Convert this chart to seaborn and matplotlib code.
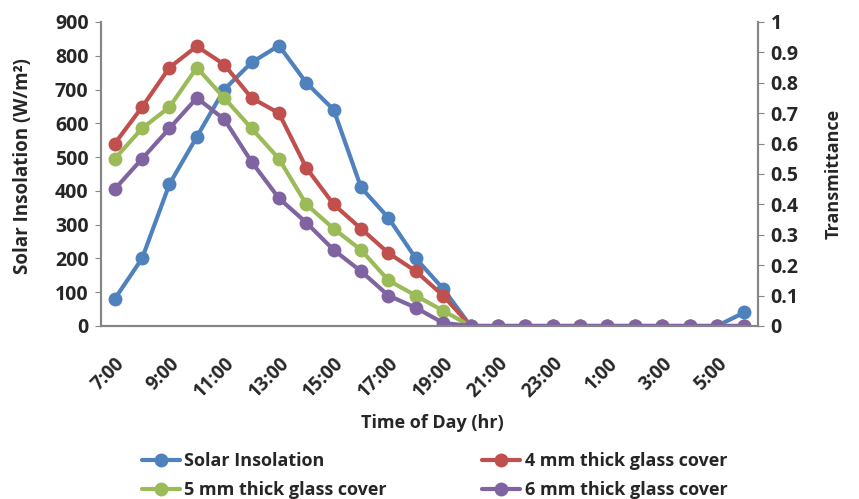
import matplotlib
matplotlib.use("Agg")
import matplotlib.pyplot as plt
import seaborn as sns
import pandas as pd
import numpy as np
from matplotlib.lines import Line2D

hours = ["7:00", "8:00", "9:00", "10:00", "11:00", "12:00", "13:00", "14:00", "15:00",
         "16:00", "17:00", "18:00", "19:00", "20:00", "21:00", "22:00", "23:00", "0:00",
         "1:00", "2:00", "3:00", "4:00", "5:00", "6:00"]
solar = [80, 200, 420, 560, 700, 780, 830, 720, 640, 410, 320, 200, 110,
         0, 0, 0, 0, 0, 0, 0, 0, 0, 0, 40]
t4mm = [0.60, 0.72, 0.85, 0.92, 0.86, 0.75, 0.70, 0.52, 0.40, 0.32, 0.24, 0.18, 0.10,
        0, 0, 0, 0, 0, 0, 0, 0, 0, 0, 0]
t5mm = [0.55, 0.65, 0.72, 0.85, 0.75, 0.65, 0.55, 0.40, 0.32, 0.25, 0.15, 0.10, 0.05,
        0, 0, 0, 0, 0, 0, 0, 0, 0, 0, 0]
t6mm = [0.45, 0.55, 0.65, 0.75, 0.68, 0.54, 0.42, 0.34, 0.25, 0.18, 0.10, 0.06, 0.01,
        0, 0, 0, 0, 0, 0, 0, 0, 0, 0, 0]
left_ticks = [0, 100, 200, 300, 400, 500, 600, 700, 800, 900]
right_ticks = [0, 0.1, 0.2, 0.3, 0.4, 0.5, 0.6, 0.7, 0.8, 0.9, 1]
right_labels = ["0", "0.1", "0.2", "0.3", "0.4", "0.5", "0.6", "0.7", "0.8", "0.9", "1"]
names = ["Solar Insolation", "4 mm thick glass cover", "5 mm thick glass cover", "6 mm thick glass cover"]
colors = ["#4F81BD", "#C0504D", "#9BBB59", "#8064A2"]

sns.set_style("white")
plt.rcParams['font.family'] = ['Open Sans', 'DejaVu Sans']
plt.rcParams['font.weight'] = 'bold'

pos = np.arange(len(hours))
df_s = pd.DataFrame({"pos": pos, "val": solar})
df_t = pd.DataFrame({"pos": np.concatenate([pos, pos, pos]),
                     "val": t4mm + t5mm + t6mm,
                     "series": [names[1]] * len(pos) + [names[2]] * len(pos) + [names[3]] * len(pos)})

fig = plt.figure(figsize=(8.59, 4.99), dpi=100)
ax = fig.add_axes([0.1176, 0.3467, 0.7648, 0.6093])
ax2 = ax.twinx()

lw = 3
ms = 10
sns.lineplot(data=df_s, x="pos", y="val", ax=ax, color=colors[0], marker="o",
             markersize=ms, linewidth=lw, markeredgewidth=0, legend=False)
sns.lineplot(data=df_t, x="pos", y="val", hue="series", hue_order=names[1:],
             palette=colors[1:], ax=ax2, marker="o", markersize=ms, linewidth=lw,
             markeredgewidth=0, legend=False)

ax.set_xlim(-0.5, len(hours) - 0.5)
ax.set_ylim(0, 900)
ax2.set_ylim(0, 1)
ax.set_yticks(left_ticks)
ax.set_yticklabels([str(v) for v in left_ticks], fontsize=14, fontweight="bold")
ax2.set_yticks(right_ticks)
ax2.set_yticklabels(right_labels, fontsize=14, fontweight="bold")
ax.set_xticks(pos[::2])
ax.set_xticklabels(hours[::2], rotation=45, ha="right", rotation_mode="anchor",
                   fontsize=13.5, fontweight="bold")
ax.tick_params(axis="x", length=0, pad=20)
ax.tick_params(axis="y", length=4, color="#868686", direction="out", left=True, pad=5)
ax2.tick_params(axis="y", length=4, color="#868686", direction="out", right=True, pad=5)

for a in (ax, ax2):
    a.spines["top"].set_visible(False)
    for s in ["left", "right", "bottom"]:
        a.spines[s].set_color("#868686")
        a.spines[s].set_linewidth(1.5)

ax.set_xlabel("Time of Day (hr)", fontsize=13, fontweight="bold")
ax.set_ylabel("Solar Insolation (W/m²)", fontsize=13.5, fontweight="bold")
ax2.set_ylabel("Transmittance", fontsize=13, fontweight="bold")
ax.xaxis.set_label_coords(0.505, -0.29)
ax.yaxis.set_label_coords(-0.104, 0.527)
ax2.yaxis.set_label_coords(1.102, 0.5)
ax.grid(False)
ax2.grid(False)

handles = [Line2D([0], [0], color=c, marker="o", markersize=ms, linewidth=lw, markeredgewidth=0)
           for c in colors]
order = [0, 2, 1, 3]
leg = fig.legend([handles[i] for i in order], [names[i] for i in order],
                 loc="center", bbox_to_anchor=(0.506, 0.047), ncol=2,
                 frameon=False, fontsize=13, handlelength=2.1, handletextpad=0.25,
                 columnspacing=5.3, labelspacing=0.6)
for t in leg.get_texts():
    t.set_fontweight("bold")

fig.savefig("out.png", dpi=100)
